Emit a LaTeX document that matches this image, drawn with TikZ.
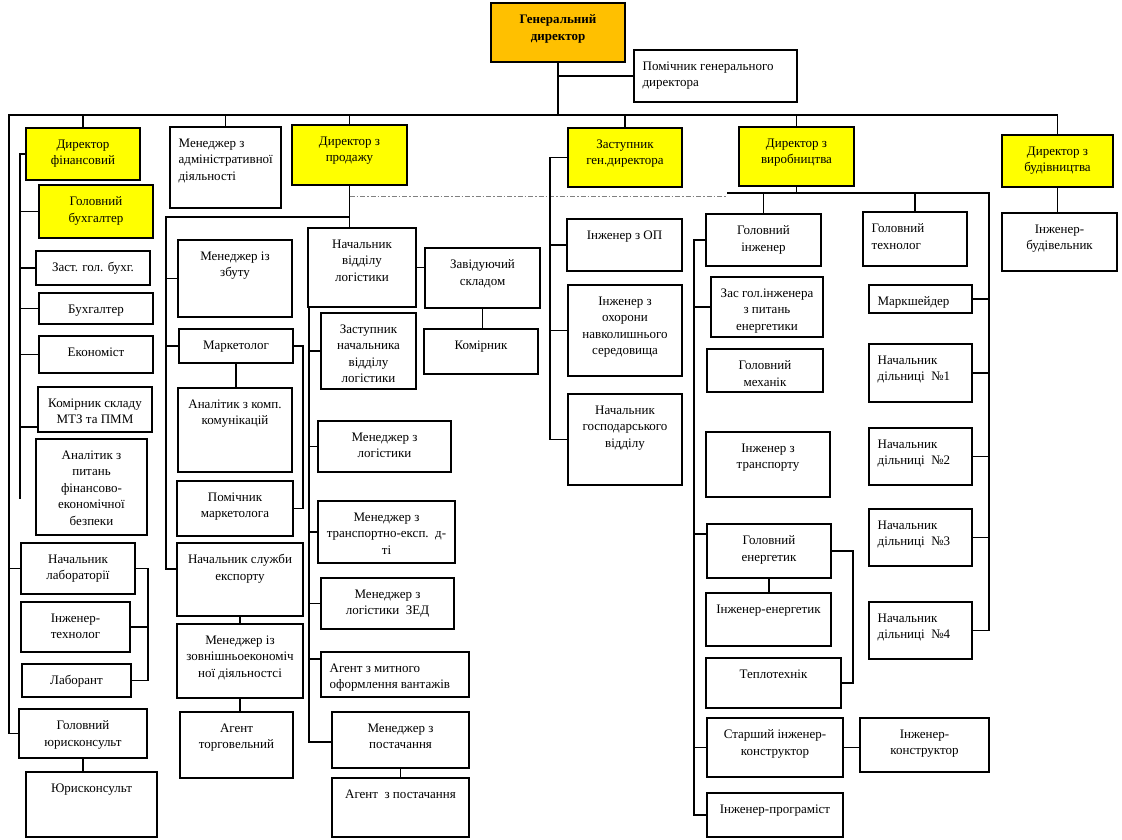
\documentclass[tikz,border=0pt]{standalone}
\usepackage{fontspec}
\setmainfont{Liberation Serif}
\definecolor{boxyellow}{HTML}{FFFF00}
\definecolor{boxorange}{HTML}{FFC000}
\tikzset{
  orgbox/.style={draw, fill=white, anchor=north west, inner sep=0pt, outer sep=0pt},
  ylw/.style={orgbox, fill=boxyellow},
  orng/.style={orgbox, fill=boxorange},
  sz/.style 2 args={minimum width=#1pt, minimum height=#2pt},
  txt/.style={font=\fontsize{13}{16.5}\selectfont, inner sep=0pt, align=center},
  ct/.style={label={[txt,anchor=north,yshift=-11pt]north:{#1}}},
  lt/.style={label={[txt,align=left,anchor=north west,xshift=8pt,yshift=-11pt]north west:{#1}}},
  dashdot/.style={line width=0.8pt, gray, dash pattern=on 5pt off 2pt on 1.5pt off 2pt},
}

\begin{document}
\begin{tikzpicture}[x=1pt,y=-1pt,line width=1.25pt]
  \useasboundingbox[fill=white] (0,0) rectangle (1122,840);
  % top level
  \node[orng,sz={134}{59},ct={{\bfseries Генеральний}\\{\bfseries директор}}] (gd) at (491,3) {};
  \node[orgbox,sz={163}{52},lt={Помічник генерального\\директора}] (pgd) at (634,50) {};
  % directors
  \node[ylw,sz={114}{52},ct={Директор\\фінансовий}] (dfin) at (26,128) {};
  \node[orgbox,sz={111}{81},lt={Менеджер з\\адміністративної\\діяльності}] (madm) at (170,127) {};
  \node[ylw,sz={115}{60},ct={Директор з\\продажу}] (dprod) at (292,125) {};
  \node[ylw,sz={114}{59},ct={Заступник\\ген.директора}] (zgd) at (568,128) {};
  \node[ylw,sz={115}{59},ct={Директор з\\виробництва}] (dvyr) at (739,127) {};
  \node[ylw,sz={111}{52},ct={Директор з\\будівництва}] (dbud) at (1002,135) {};
  % finance
  \node[ylw,sz={114}{53},ct={Головний\\бухгалтер}] (gb) at (39,185) {};
  \node[orgbox,sz={114}{34},ct={Заст. гол. бухг.}] (zgb) at (36,251) {};
  \node[orgbox,sz={114}{31},ct={Бухгалтер}] (buh) at (39,293) {};
  \node[orgbox,sz={114}{37},ct={Економіст}] (ekon) at (39,336) {};
  \node[orgbox,sz={114}{45},ct={Комірник складу\\МТЗ та ПММ}] (komir) at (38,387) {};
  \node[orgbox,sz={111}{96},ct={Аналітик з\\питань\\фінансово-\\економічної\\безпеки}] (anbez) at (36,439) {};
  \node[orgbox,sz={114}{51},ct={Начальник\\лабораторії}] (nlab) at (21,543) {};
  \node[orgbox,sz={109}{50},ct={Інженер-\\технолог}] (inzt) at (21,602) {};
  \node[orgbox,sz={109}{33},ct={Лаборант}] (labr) at (22,664) {};
  \node[orgbox,sz={128}{49},ct={Головний\\юрисконсульт}] (glaw) at (19,709) {};
  \node[orgbox,sz={131}{65},ct={Юрисконсульт}] (law) at (26,772) {};
  % sales
  \node[orgbox,sz={114}{77},ct={Менеджер із\\збуту}] (mzb) at (178,240) {};
  \node[orgbox,sz={114}{34},ct={Маркетолог}] (mark) at (179,329) {};
  \node[orgbox,sz={114}{84},ct={Аналітик з комп.\\комунікацій}] (ankom) at (178,388) {};
  \node[orgbox,sz={116}{55},ct={Помічник\\маркетолога}] (pmark) at (177,481) {};
  \node[orgbox,sz={126}{73},ct={Начальник служби\\експорту}] (nexp) at (177,543) {};
  \node[orgbox,sz={126}{74},ct={Менеджер із\\зовнішньоекономіч\\ної діяльностсі}] (mzed) at (177,624) {};
  \node[orgbox,sz={113}{66},ct={Агент\\торговельний}] (agtorg) at (180,712) {};
  % logistics
  \node[orgbox,sz={108}{79},ct={Начальник\\відділу\\логістики}] (nlog) at (308,228) {};
  \node[orgbox,sz={115}{60},ct={Завідуючий\\складом}] (zavskl) at (425,248) {};
  \node[orgbox,sz={114}{45},ct={Комірник}] (komirn) at (424,329) {};
  \node[orgbox,sz={95}{76},ct={Заступник\\начальника\\відділу\\логістики}] (znl) at (321,313) {};
  \node[orgbox,sz={133}{51},ct={Менеджер з\\логістики}] (mlog) at (318,421) {};
  \node[orgbox,sz={137}{62},ct={Менеджер з\\транспортно-експ.~~д-\\ті}] (mtr) at (318,501) {};
  \node[orgbox,sz={133}{51},ct={Менеджер з\\логістики~~ЗЕД}] (mzed2) at (321,578) {};
  \node[orgbox,sz={148}{45},lt={Агент з митного\\оформлення вантажів}] (agmyt) at (321,652) {};
  \node[orgbox,sz={137}{56},ct={Менеджер з\\постачання}] (mpost) at (332,712) {};
  \node[orgbox,sz={137}{59},ct={Агент~~з постачання}] (agpost) at (332,778) {};
  % deputy
  \node[orgbox,sz={115}{52},ct={Інженер з ОП}] (iop) at (567,219) {};
  \node[orgbox,sz={114}{91},ct={Інженер з\\охорони\\навколишнього\\середовища}] (iohor) at (568,285) {};
  \node[orgbox,sz={114}{91},ct={Начальник\\господарського\\відділу}] (nhosp) at (568,394) {};
  % production
  \node[orgbox,sz={115}{52},ct={Головний\\інженер}] (gi) at (706,214) {};
  \node[orgbox,sz={104}{54},lt={Головний\\технолог}] (gt) at (863,212) {};
  \node[orgbox,sz={115}{58},ct={Інженер-\\будівельник}] (ib) at (1002,213) {};
  \node[orgbox,sz={112}{60},ct={Зас гол.інженера\\з питань\\енергетики}] (zgi) at (711,277) {};
  \node[orgbox,sz={116}{43},ct={Головний\\механік}] (gmeh) at (707,349) {};
  \node[orgbox,sz={124}{65},ct={Інженер з\\транспорту}] (itr) at (706,432) {};
  \node[orgbox,sz={124}{54},ct={Головний\\енергетик}] (gen) at (707,524) {};
  \node[orgbox,sz={125}{53},ct={Інженер-енергетик}] (ie) at (706,593) {};
  \node[orgbox,sz={135}{50},ct={Теплотехнік}] (tepl) at (706,658) {};
  \node[orgbox,sz={136}{59},ct={Старший інженер-\\конструктор}] (sik) at (707,718) {};
  \node[orgbox,sz={129}{54},ct={Інженер-\\конструктор}] (ik) at (860,718) {};
  \node[orgbox,sz={136}{44},ct={Інженер-програміст}] (prog) at (707,793) {};
  \node[orgbox,sz={103}{28},lt={Маркшейдер}] (marksh) at (869,285) {};
  \node[orgbox,sz={103}{58},lt={Начальник\\дільниці~~№1}] (nd1) at (869,344) {};
  \node[orgbox,sz={103}{57},lt={Начальник\\дільниці~~№2}] (nd2) at (869,428) {};
  \node[orgbox,sz={103}{57},lt={Начальник\\дільниці~~№3}] (nd3) at (869,509) {};
  \node[orgbox,sz={103}{57},lt={Начальник\\дільниці~~№4}] (nd4) at (869,602) {};

  % main bus
  \coordinate (busL) at (9,115);
  \draw (gd.south) -- (gd.south |- busL);
  \draw (gd.south |- pgd.west) -- (pgd.west);
  \draw (glaw.west) -| (busL) -| (dbud.north);
  \foreach \n in {dfin,madm,dprod,zgd,dvyr}
    \draw (\n.north) -- (\n.north |- busL);
  \draw (nlab.west -| busL) -- (nlab.west);

  % finance lines
  \coordinate (finEnd) at (20,499);
  \draw (dfin.west) -| (finEnd);
  \foreach \n in {gb,zgb,buh,ekon}
    \draw (\n.west) -- (\n.west -| finEnd);
  \draw ([yshift=5pt]komir.south west) -- ++(-18,0);
  \coordinate (labBr) at (148,0);
  \draw (nlab.east) -- (nlab.east -| labBr) -- (labr.east -| labBr) -- (labr.east);
  \draw (inzt.east) -- (inzt.east -| labBr);
  \draw (glaw.south) -- (glaw.south |- law.north);

  % sales lines
  \coordinate (salesTop) at (166,217);
  \coordinate (salesEnd) at (166,569);
  \draw (dprod.south) -- (dprod.south |- nlog.north);
  \draw (dprod.south |- salesTop) -- (salesTop) -- (salesEnd) -- (salesEnd -| nexp.west);
  \foreach \n in {mzb,mark}
    \draw (\n.west) -- (\n.west -| salesTop);
  \draw (mark.south) -- (mark.south |- ankom.north);
  \coordinate (markBr) at (303,0);
  \draw (mark.east) -- (mark.east -| markBr) -- (pmark.east -| markBr) -- (pmark.east);
  \draw (nexp.south) -- (nexp.south |- mzed.north);
  \draw (mzed.south) -- (mzed.south |- agtorg.north);

  % logistics lines
  \coordinate (logEnd) at (309,742);
  \draw (nlog.east) -- (nlog.east -| zavskl.west);
  \draw (zavskl.south) -- (zavskl.south |- komirn.north);
  \draw (nlog.south west -| logEnd) -- (logEnd) -- (logEnd -| mpost.west);
  \foreach \n in {znl,mlog,mtr,mzed2}
    \draw (\n.west) -- (\n.west -| logEnd);
  \draw ([yshift=-7pt]agmyt.north west) -- ++(-12,0);
  \draw (mpost.south) -- (mpost.south |- agpost.north);
  \coordinate (prodDash) at (727,196);
  \draw[dashdot] (dprod.south |- prodDash) -- (prodDash);

  % deputy lines
  \coordinate (zgdBus) at (550,0);
  \draw (zgd.west) -- (zgd.west -| zgdBus) -- (nhosp.west -| zgdBus) -- (nhosp.west);
  \foreach \n in {iop,iohor}
    \draw (\n.west) -- (\n.west -| zgdBus);

  % production lines
  \coordinate (vyrL) at (727,193);
  \coordinate (vyrR) at (989,193);
  \draw (dvyr.south) -- (dvyr.south |- vyrR);
  \draw (vyrL) -- (vyrR) -- (nd4.east -| vyrR) -- (nd4.east);
  \foreach \n in {gi,gt}
    \draw (\n.north |- vyrR) -- (\n.north);
  \foreach \n in {marksh,nd1,nd2,nd3}
    \draw (\n.east) -- (\n.east -| vyrR);
  \coordinate (giBus) at (694,0);
  \draw (gi.west) -- (gi.west -| giBus) -- (prog.west -| giBus) -- (prog.west);
  \foreach \n in {zgi,sik}
    \draw (\n.west) -- (\n.west -| giBus);
  \draw ([yshift=-10pt]gen.north west) -- ++(-13,0);
  \draw (gen.south) -- (gen.south |- ie.north);
  \coordinate (genBr) at (853,0);
  \draw (gen.east) -- (gen.east -| genBr) -- (tepl.east -| genBr) -- (tepl.east);
  \draw (sik.east) -- (sik.east -| ik.west);
  \draw (dbud.south) -- (dbud.south |- ib.north);
\end{tikzpicture}
\end{document}
